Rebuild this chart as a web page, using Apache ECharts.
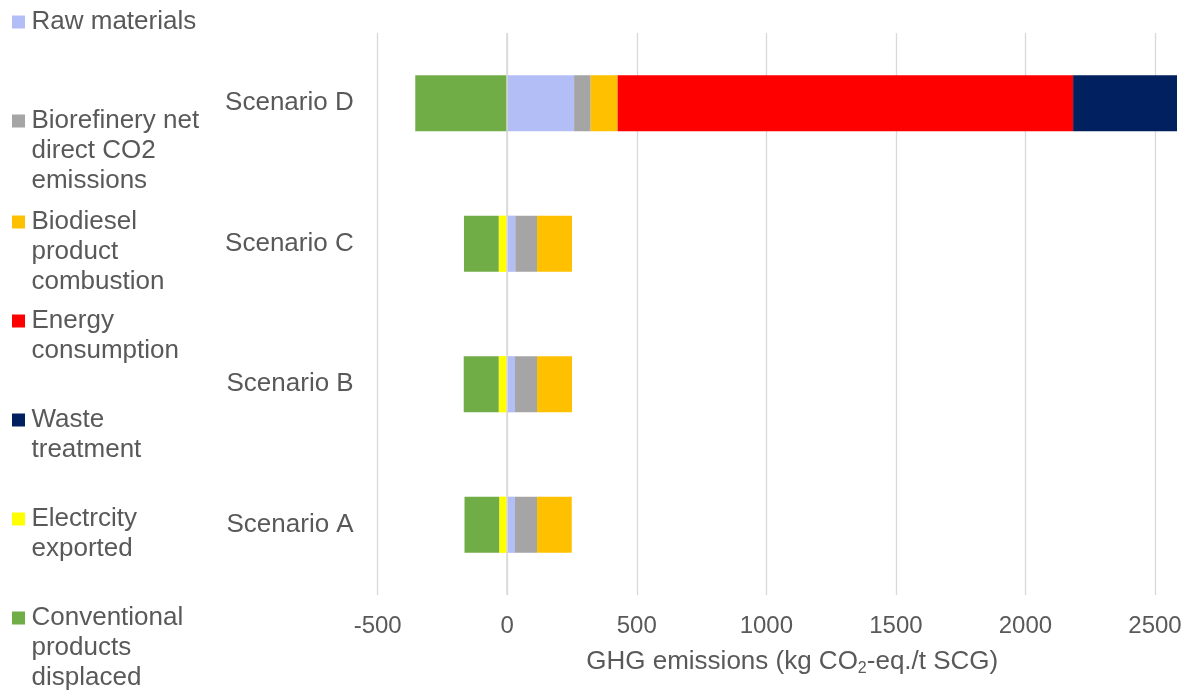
<!DOCTYPE html>
<html>
<head>
<meta charset="utf-8">
<script src="https://cdn.jsdelivr.net/npm/echarts@6/dist/echarts.min.js"></script>
<style>
  html, body { margin: 0; padding: 0; background: #ffffff; }
  #chart { width: 1190px; height: 696px; }
</style>
</head>
<body>
<div id="chart"></div>
<script>
// ---- data ----
const categories = ['Scenario A', 'Scenario B', 'Scenario C', 'Scenario D'];
const rawMaterials = [30, 30, 31, 258];
const biorefineryCO2 = [85, 85, 84, 64];
const biodieselCombustion = [134, 135, 135, 104];
const energyConsumption = [0, 0, 0, 1758];
const wasteTreatment = [0, 0, 0, 401];
const electricityExported = [-31, -33, -33, 0];
const conventionalDisplaced = [-134, -135, -134, -355];
const xTicks = [-500, 0, 500, 1000, 1500, 2000, 2500];

const seriesNames = [
  'Raw materials',
  'Biorefinery net direct CO2 emissions',
  'Biodiesel product combustion',
  'Energy consumption',
  'Waste treatment',
  'Electrcity exported',
  'Conventional products displaced'
];
const legendLines = [
  ['Raw materials'],
  ['Biorefinery net', 'direct CO2', 'emissions'],
  ['Biodiesel', 'product', 'combustion'],
  ['Energy', 'consumption'],
  ['Waste', 'treatment'],
  ['Electrcity', 'exported'],
  ['Conventional', 'products', 'displaced']
];
const seriesData = [rawMaterials, biorefineryCO2, biodieselCombustion, energyConsumption, wasteTreatment, electricityExported, conventionalDisplaced];
const colors = ['#B4BEF6', '#A5A5A5', '#FFC000', '#FF0000', '#002060', '#FFFF00', '#70AD47'];

// ---- layout ----
const FONT = '"Liberation Sans", Arial, sans-serif';
const TEXT_COLOR = '#595959';
const GRID_COLOR = '#D9D9D9';
const legendCenters = [22, 121, 222, 321, 420, 519, 618];
const LH = 30;

const legends = seriesNames.map(function (name, i) {
  const n = legendLines[i].length;
  // blank lines above so that the first real line sits level with the icon
  const text = new Array(n).join('\n') + legendLines[i].join('\n');
  return {
    data: [name],
    orient: 'vertical',
    left: 12,
    top: legendCenters[i] - (2 * n - 1) * LH / 2,
    padding: 0,
    itemWidth: 16,
    itemHeight: 13,
    icon: 'path://M0,0H10V10H0Z',
    selectedMode: false,
    formatter: function () { return text; },
    textStyle: {
      color: TEXT_COLOR,
      fontFamily: FONT,
      fontSize: 26,
      lineHeight: LH
    }
  };
});

const series = seriesNames.map(function (name, i) {
  const s = {
    name: name,
    type: 'bar',
    stack: 'total',
    barWidth: '40%',
    itemStyle: { color: colors[i] },
    emphasis: { disabled: true },
    data: seriesData[i]
  };
  if (i === seriesNames.length - 1) {
    s.markLine = {
      silent: true,
      symbol: 'none',
      label: { show: false },
      lineStyle: { color: GRID_COLOR, width: 1.5, type: 'solid' },
      data: [{ xAxis: 0 }]
    };
  }
  return s;
});

const chart = echarts.init(document.getElementById('chart'), null, { renderer: 'canvas' });
chart.setOption({
  animation: false,
  color: colors,
  textStyle: { fontFamily: FONT },
  legend: legends,
  grid: { left: 377.7, width: 829.1, top: 33, height: 562, containLabel: false, outerBoundsMode: 'none' },
  xAxis: {
    type: 'value',
    min: xTicks[0],
    max: 2700,
    interval: 500,
    axisLine: { show: false },
    axisTick: { show: false },
    splitLine: { show: true, lineStyle: { color: GRID_COLOR, width: 1.3 } },
    axisLabel: {
      color: TEXT_COLOR, fontSize: 24, fontFamily: FONT, margin: 19,
      showMaxLabel: false,
      formatter: function (v) { return xTicks.indexOf(v) >= 0 ? String(v) : ''; }
    },
    name: '{a|GHG emissions (kg CO}{s|2}{a|-eq./t SCG)}',
    nameLocation: 'middle',
    nameGap: 52,
    nameTextStyle: {
      rich: {
        a: { fontSize: 26, lineHeight: 30, color: TEXT_COLOR, fontFamily: FONT },
        s: { fontSize: 16, color: TEXT_COLOR, fontFamily: FONT, verticalAlign: 'bottom' }
      }
    }
  },
  yAxis: {
    type: 'category',
    data: categories,
    axisLine: { show: false, onZero: false },
    axisTick: { show: false },
    splitLine: { show: false },
    axisLabel: { color: TEXT_COLOR, fontSize: 26, fontFamily: FONT, margin: 24 }
  },
  series: series
});
</script>
</body>
</html>
